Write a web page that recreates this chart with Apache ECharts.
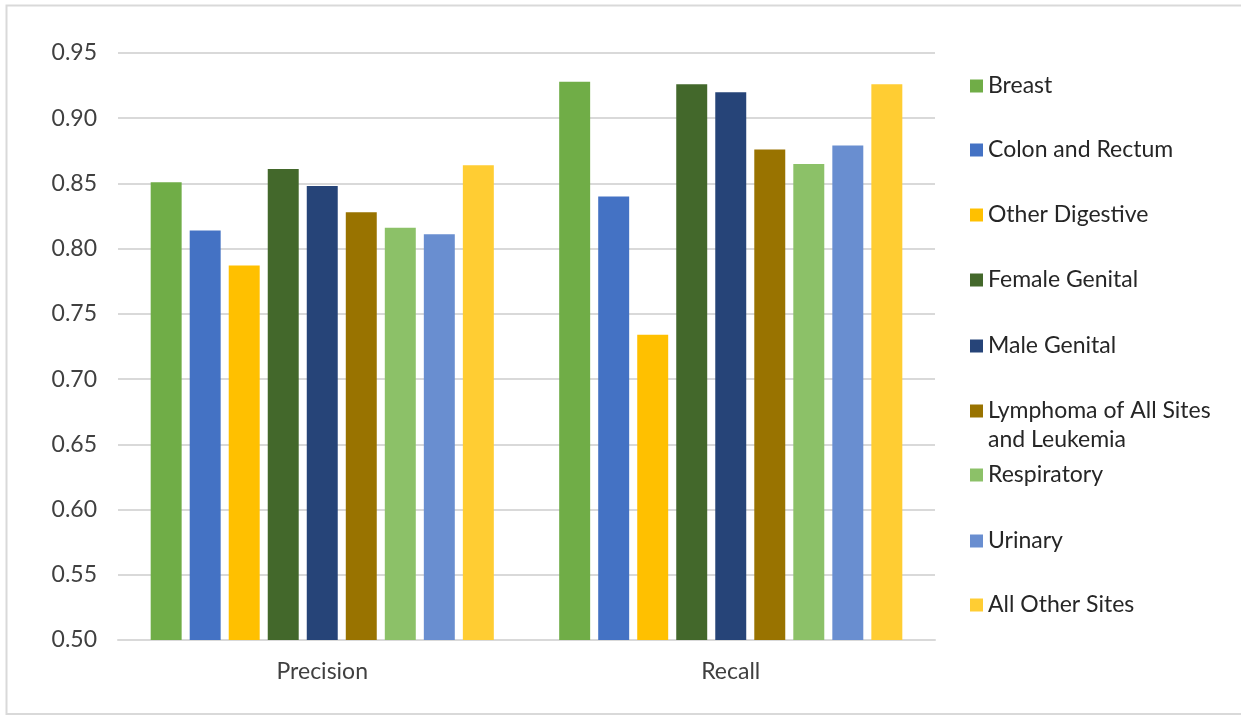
<!DOCTYPE html>
<html>
<head>
<meta charset="utf-8">
<script src="https://cdn.jsdelivr.net/npm/echarts@6/dist/echarts.min.js"></script>
<style>
html,body{margin:0;padding:0;background:#fff;}
#main{width:1241px;height:715px;}
</style>
</head>
<body>
<div id="main"></div>
<script>
var categories = ['Precision', 'Recall'];
var seriesNames = ['Breast', 'Colon and Rectum', 'Other Digestive', 'Female Genital', 'Male Genital', 'Lymphoma of All Sites and Leukemia', 'Respiratory', 'Urinary', 'All Other Sites'];
var breast = [0.851, 0.928];
var colonRectum = [0.814, 0.840];
var otherDigestive = [0.787, 0.734];
var femaleGenital = [0.861, 0.926];
var maleGenital = [0.848, 0.920];
var lymphomaLeukemia = [0.828, 0.876];
var respiratory = [0.816, 0.865];
var urinary = [0.811, 0.879];
var allOtherSites = [0.864, 0.926];
var yTicks = ['0.50','0.55','0.60','0.65','0.70','0.75','0.80','0.85','0.90','0.95'];

var seriesValues = [breast, colonRectum, otherDigestive, femaleGenital, maleGenital, lymphomaLeukemia, respiratory, urinary, allOtherSites];
var colors = ['#70AD47', '#4472C4', '#FFC000', '#43682B', '#264478', '#997300', '#8CC168', '#698ED0', '#FFCD33'];

var FONT = 'Lato';
var FS = 23;
var LH = 29;
var legendCenters = [86, 150, 215, 280, 346, 411, 475, 541, 605];

var series = seriesNames.map(function (n, i) {
  return {
    name: n,
    type: 'bar',
    data: seriesValues[i],
    itemStyle: { color: colors[i] },
    barGap: '26%',
    barCategoryGap: '16%'
  };
});

var legends = seriesNames.map(function (n, i) {
  var isLong = (i === 5);
  return {
    orient: 'vertical',
    left: 965,
    top: isLong ? legendCenters[i] - 5 - LH * 1.5 : legendCenters[i] - 5 - LH / 2,
    itemWidth: 13,
    itemHeight: 13,
    icon: 'rect',
    selectedMode: false,
    data: [n],
    formatter: isLong ? function () { return ' \nLymphoma of All Sites\nand Leukemia'; } : undefined,
    textStyle: {
      fontFamily: FONT,
      fontSize: FS,
      color: '#262626',
      lineHeight: LH
    }
  };
});

var chart = echarts.init(document.getElementById('main'), null, { renderer: 'canvas' });
chart.setOption({
  animation: false,
  backgroundColor: '#fff',
  color: colors,
  grid: { left: 118, right: 306, top: 53, bottom: 75, containLabel: false },
  legend: legends,
  graphic: [{
    type: 'rect',
    shape: { x: 6.5, y: 5.5, width: 1240, height: 708.5 },
    style: { fill: 'none', stroke: '#d9d9d9', lineWidth: 2 },
    silent: true
  }],
  xAxis: {
    type: 'category',
    data: categories,
    axisLine: { lineStyle: { color: '#d9d9d9', width: 2 } },
    axisTick: { show: false },
    axisLabel: { fontFamily: FONT, fontSize: FS, color: '#404040', margin: 20 }
  },
  yAxis: {
    type: 'value',
    min: 0.5,
    max: 0.95,
    interval: 0.05,
    axisLine: { show: false },
    axisTick: { show: false },
    splitLine: { lineStyle: { color: '#d9d9d9', width: 2 } },
    axisLabel: {
      fontFamily: FONT, fontSize: FS, color: '#404040', margin: 21,
      formatter: function (v) {
        var idx = Math.round((v - 0.5) / 0.05);
        return yTicks[idx];
      }
    }
  },
  series: series
});
</script>
</body>
</html>
